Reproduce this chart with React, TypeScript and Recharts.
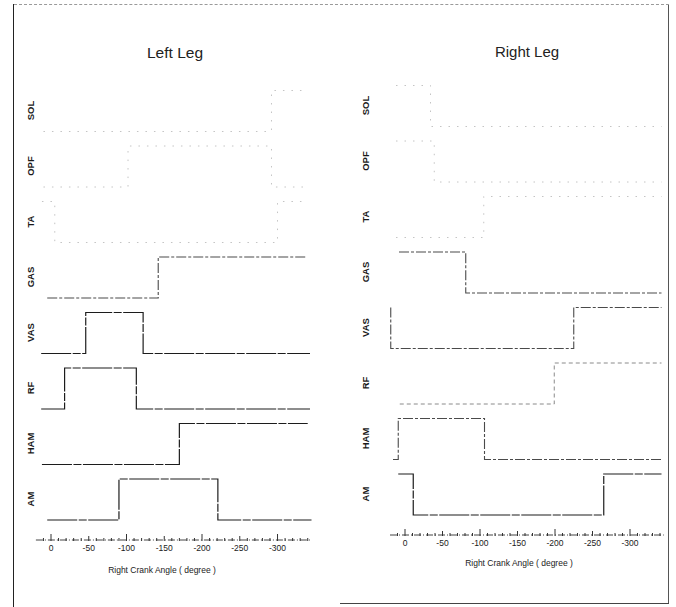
import React from "react";
import { LineChart, Line, XAxis, YAxis } from "recharts";

// ---------- categories / ticks ----------
const muscles = ["AM", "HAM", "RF", "VAS", "GAS", "TA", "OPF", "SOL"];
const tickValues = [0, 50, 100, 150, 200, 250, 300];
const tickLabels = ["0", "-50", "-100", "-150", "-200", "-250", "-300"];
const minorTicks = [-10, 0, 10, 20, 30, 40, 50, 60, 70, 80, 90, 100, 110, 120, 130, 140, 150, 160, 170, 180, 190, 200, 210, 220, 230, 240, 250, 260, 270, 280, 290, 300, 310, 320, 330, 340];

// ---------- series: [crank angle (deg), on(1)/off(0)] ----------
const leftAM: [number, number][] = [[-5, 0], [90, 1], [221, 0], [347, 0]];
const leftHAM: [number, number][] = [[-12, 0], [170, 1], [340, 1]];
const leftRF: [number, number][] = [[-13, 0], [18, 1], [113, 0], [343, 0]];
const leftVAS: [number, number][] = [[-13, 0], [46, 1], [122, 0], [343, 0]];
const leftGAS: [number, number][] = [[-5, 0], [142, 1], [337, 1]];
const leftTA: [number, number][] = [[-12, 1], [5, 0], [300, 1], [337, 1]];
const leftOPF: [number, number][] = [[-10, 0], [102, 1], [292, 0], [337, 0]];
const leftSOL: [number, number][] = [[-10, 0], [292, 1], [337, 1]];

const rightAM: [number, number][] = [[-9, 1], [11, 0], [265, 1], [342, 1]];
const rightHAM: [number, number][] = [[-16, 0], [-9, 1], [106, 0], [342, 0]];
const rightRF: [number, number][] = [[-7, 0], [199, 1], [342, 1]];
const rightVAS: [number, number][] = [[-19, 1], [-19, 0], [225, 1], [342, 1]];
const rightGAS: [number, number][] = [[-8, 1], [81, 0], [342, 0]];
const rightTA: [number, number][] = [[-12, 0], [105, 1], [342, 1]];
const rightOPF: [number, number][] = [[-12, 1], [39, 0], [342, 0]];
const rightSOL: [number, number][] = [[-12, 1], [34, 0], [342, 0]];

const leftSeries = [leftAM, leftHAM, leftRF, leftVAS, leftGAS, leftTA, leftOPF, leftSOL];
const rightSeries = [rightAM, rightHAM, rightRF, rightVAS, rightGAS, rightTA, rightOPF, rightSOL];

// ---------- layout / styles ----------
const ROW_STEP = 55.5;
const AMP = 41;
const LABEL_OFFSET = 21;
const FONT = "'Liberation Sans', Arial, Helvetica, sans-serif";

type St = { stroke: string; dash: string; w: number };
const dark: St = { stroke: "#1c1c1c", dash: "30 1.5 8 1.5", w: 1.2 };
const mid: St = { stroke: "#4a4a4a", dash: "10 2 3 2", w: 1.1 };
const light: St = { stroke: "#8a8a8a", dash: "4 3", w: 1 };
const faint: St = { stroke: "#c4c4c4", dash: "1.5 7", w: 1 };

const leftStyles = [dark, dark, dark, dark, mid, faint, faint, faint];
const rightStyles = [dark, mid, light, mid, mid, faint, faint, faint];

const rowTicks = muscles.map((_, i) => i * ROW_STEP + LABEL_OFFSET);

const toData = (pairs: [number, number][], row: number) =>
  pairs.map(([a, s]) => ({ angle: a, level: row * ROW_STEP + s * AMP }));

const makeYTick = (cx: number) => (props: any) => {
  const { y, payload, index } = props;
  let idx = typeof index === "number" ? index : rowTicks.indexOf(payload.value);
  if (idx < 0) idx = rowTicks.indexOf(payload.value);
  return (
    <text
      x={cx}
      y={y}
      transform={`rotate(-90 ${cx} ${y})`}
      textAnchor="middle"
      dominantBaseline="central"
      fontSize={9.5}
      fontWeight="bold"
      fontFamily={FONT}
      fill="#1a1a1a"
    >
      {muscles[idx]}
    </text>
  );
};

const XTick = (props: any) => {
  const { x, y, payload } = props;
  const v = payload.value;
  const axisY = y - 8;
  const li = tickValues.indexOf(v);
  const h = v % 100 === 0 ? 6 : v % 50 === 0 ? 4 : 2;
  return (
    <g>
      <line x1={x} x2={x} y1={axisY + 1} y2={axisY - h} stroke="#333" strokeWidth={1} />
      {li >= 0 && (
        <text x={x} y={y} dy="0.35em" textAnchor="middle" fontSize={8.5} fontFamily={FONT} fill="#1a1a1a">
          {tickLabels[li]}
        </text>
      )}
    </g>
  );
};

function Panel(props: {
  series: [number, number][][];
  styles: St[];
  width: number;
  margin: { top: number; right: number; bottom: number; left: number };
  labelX: number;
  id: string;
}) {
  const { series, styles, width, margin, labelX, id } = props;
  return (
    <LineChart width={width} height={607} margin={margin}>
      <XAxis
        type="number"
        dataKey="angle"
        domain={[-20, 345]}
        allowDataOverflow
        ticks={minorTicks}
        interval={0}
        tick={XTick}
        tickLine={false}
        tickSize={6}
        tickMargin={2}
        height={30}
        axisLine={{ stroke: "#444", strokeDasharray: "7 2 1 2" }}
      />
      <YAxis
        type="number"
        domain={[-20, 460]}
        allowDataOverflow
        ticks={rowTicks}
        interval={0}
        tick={makeYTick(labelX)}
        tickLine={false}
        axisLine={false}
        width={20}
      />
      {series.map((s, i) => (
        <Line
          key={id + muscles[i]}
          data={toData(s, i)}
          dataKey="level"
          type="stepAfter"
          stroke={styles[i].stroke}
          strokeWidth={styles[i].w}
          strokeDasharray={styles[i].dash}
          dot={false}
          activeDot={false}
          isAnimationActive={false}
        />
      ))}
    </LineChart>
  );
}

export default function App() {
  const abs = (o: React.CSSProperties): React.CSSProperties => ({ position: "absolute", ...o });
  return (
    <div style={abs({ left: 0, top: 0, width: 676, height: 607, background: "#fff", overflow: "hidden" })}>
      {/* frame of the scanned page */}
      <div style={abs({ left: 13, top: 4, height: 603, borderLeft: "1.5px solid #222" })} />
      <div style={abs({ left: 14, top: 4, width: 655, borderTop: "1px dashed #9a9a9a" })} />
      <div style={abs({ left: 668, top: 5, height: 599, borderLeft: "1px solid #555" })} />
      <div style={abs({ left: 340, top: 603, width: 329, borderTop: "1px solid #444" })} />

      <div style={abs({ left: 0, top: 0 })}>
        <Panel
          id="L"
          series={leftSeries}
          styles={leftStyles}
          width={336}
          margin={{ top: 60, right: 24.5, bottom: 37, left: 15.9 }}
          labelX={30}
        />
      </div>
      <div style={abs({ left: 336, top: 0 })}>
        <Panel
          id="R"
          series={rightSeries}
          styles={rightStyles}
          width={340}
          margin={{ top: 55, right: 12.25, bottom: 42, left: 34 }}
          labelX={29}
        />
      </div>

      <div style={abs({ left: 75, top: 45, width: 200, textAlign: "center", fontFamily: FONT, fontSize: 15.5, lineHeight: "16px", color: "#222" })}>
        Left Leg
      </div>
      <div style={abs({ left: 427, top: 44, width: 200, textAlign: "center", fontFamily: FONT, fontSize: 15, lineHeight: "16px", color: "#222" })}>
        Right Leg
      </div>
      <div style={abs({ left: 62, top: 565, width: 200, textAlign: "center", fontFamily: FONT, fontSize: 8.5, lineHeight: "10px", color: "#222" })}>
        Right Crank Angle ( degree )
      </div>
      <div style={abs({ left: 419, top: 558, width: 200, textAlign: "center", fontFamily: FONT, fontSize: 8.5, lineHeight: "10px", color: "#222" })}>
        Right Crank Angle ( degree )
      </div>
    </div>
  );
}
